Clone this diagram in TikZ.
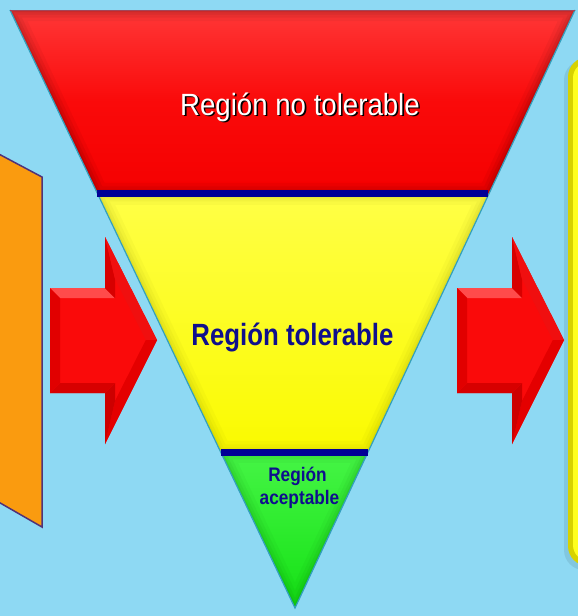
\documentclass[tikz,border=0pt]{standalone}
\usepackage{fontspec}
\setmainfont{Liberation Sans}
\newfontfamily\nreg{Liberation Sans}[FakeStretch=0.9]
\newfontfamily\nbold{Liberation Sans}[FakeStretch=0.84]
\newfontfamily\nboldb{Liberation Sans}[FakeStretch=0.88]
\usetikzlibrary{calc}
\definecolor{bg}{RGB}{142,217,243}
\definecolor{navyc}{RGB}{0,0,150}
\definecolor{navyt}{RGB}{15,15,140}
\definecolor{orangeP}{RGB}{250,155,15}
\definecolor{orangeE}{RGB}{80,50,120}
\definecolor{panelEdge}{RGB}{215,210,0}
\definecolor{panelFill}{RGB}{255,255,30}
\definecolor{edgeC}{RGB}{50,160,190}
\definecolor{topE}{RGB}{160,70,90}
\definecolor{arC}{RGB}{250,10,10}
\definecolor{arTop}{RGB}{255,75,75}
\definecolor{arBackU}{RGB}{215,0,0}
\definecolor{arHeadT}{RGB}{240,15,15}
\definecolor{arHeadB}{RGB}{228,0,0}
\definecolor{arBackL}{RGB}{205,0,0}
\definecolor{arBot}{RGB}{215,0,0}
\definecolor{arLeft}{RGB}{225,0,0}
\definecolor{redT}{RGB}{255,55,55}
\definecolor{redM}{RGB}{250,10,10}
\definecolor{redB}{RGB}{245,0,0}
\definecolor{yelT}{RGB}{255,255,70}
\definecolor{yelB}{RGB}{250,250,0}
\definecolor{grnT}{RGB}{70,245,70}
\definecolor{grnB}{RGB}{20,225,20}
\definecolor{grnS}{RGB}{0,90,0}
\definecolor{yelS}{RGB}{120,120,0}
\newcommand\innershade[2]{%
  \begin{scope}
    \clip #1;
    \foreach \w/\o in {22/0.04,15/0.05,9/0.06,4/0.08}
      \draw[line width=\w pt, #2, opacity=\o, line join=round] #1;
  \end{scope}}
\newcommand\bevelarrow[1]{%
  \begin{scope}[xshift=#1pt]
    \fill[arC] (50,288) -- (105,288) -- (105,237) -- (157,340) -- (105,444) -- (105,393) -- (50,393) -- cycle;
    \fill[arTop] (50,288) -- (105,288) -- (115,298) -- (60,298) -- cycle;
    \fill[arBackU] (105,288) -- (105,237) -- (115,279) -- (115,298) -- cycle;
    \fill[arHeadT] (105,237) -- (157,340) -- (145.8,340) -- (115,279) -- cycle;
    \fill[arHeadB] (157,340) -- (105,444) -- (115,401) -- (145.8,340) -- cycle;
    \fill[arBackL] (105,444) -- (105,393) -- (115,383) -- (115,401) -- cycle;
    \fill[arBot] (105,393) -- (50,393) -- (60,383) -- (115,383) -- cycle;
    \fill[arLeft] (50,393) -- (50,288) -- (60,298) -- (60,383) -- cycle;
  \end{scope}}
\newcommand\shadowtext[1]{\makebox[0pt][l]{\hspace{1.6pt}\raisebox{-1.6pt}{\color{black}#1}}\color{white}#1}
\begin{document}
\begin{tikzpicture}[x=1pt,y=-1pt]
\fill[bg] (0,0) rectangle (578,616);
\useasboundingbox (0,0) rectangle (578,616);

% left orange panel
\draw[fill=orangeP, draw=orangeE, line width=1.5pt] (-5,152) -- (42,177) -- (42,527) -- (-5,500) -- cycle;

% right yellow panel
\fill[black, opacity=0.08, rounded corners=20pt] (564,60) rectangle (660,570);
\fill[panelEdge, rounded corners=20pt] (568,57) rectangle (660,566);
\fill[panelFill, rounded corners=16pt] (573,62) rectangle (660,561);

% arrows
\bevelarrow{0}
\bevelarrow{407}

% triangle geometry
\coordinate (T1) at (10,10);
\coordinate (T2) at (575,10);
\coordinate (A) at (295,608);
\coordinate (L1) at ($(T1)!{184/598}!(A)$);
\coordinate (R1) at ($(T2)!{184/598}!(A)$);
\coordinate (L2) at ($(T1)!{442/598}!(A)$);
\coordinate (R2) at ($(T2)!{442/598}!(A)$);

% red region
\shade[top color=redT, bottom color=redB, middle color=redM] (T1) -- (T2) -- (R1) -- (L1) -- cycle;
\innershade{(T1) -- (T2) -- (R1) -- (L1) -- cycle}{black}
% yellow region
\shade[top color=yelT, bottom color=yelB] (L1) -- (R1) -- (R2) -- (L2) -- cycle;
\innershade{(L1) -- (R1) -- (R2) -- (L2) -- cycle}{yelS}
% green region
\shade[top color=grnT, bottom color=grnB] (L2) -- (R2) -- (A) -- cycle;
\innershade{(L2) -- (R2) -- (A) -- cycle}{grnS}

% triangle edges
\draw[edgeC, line width=1.2pt] (T2) -- (A) -- (T1);
\draw[topE, line width=1pt] (T1) -- (T2);

% bars
\fill[navyc] (97,190) rectangle (488,197);
\fill[navyc] (221,449) rectangle (368,456);

% texts
\node[anchor=base, inner sep=0pt] (nt) at (300,115) {\nreg\fontsize{30.7}{36}\selectfont\shadowtext{Región no tolerable}};
\node[anchor=base, inner sep=0pt, text=navyt] (tol) at (292.5,345) {\nbold\bfseries\fontsize{30.7}{36}\selectfont Región tolerable};
\node[anchor=base, inner sep=0pt, text=navyt] (acc1) at (297.5,481) {\nboldb\bfseries\fontsize{19.6}{23}\selectfont Región};
\node[anchor=base, inner sep=0pt, text=navyt] (acc2) at (299.5,504) {\nboldb\bfseries\fontsize{19.6}{23}\selectfont aceptable};
\end{tikzpicture}
\end{document}
